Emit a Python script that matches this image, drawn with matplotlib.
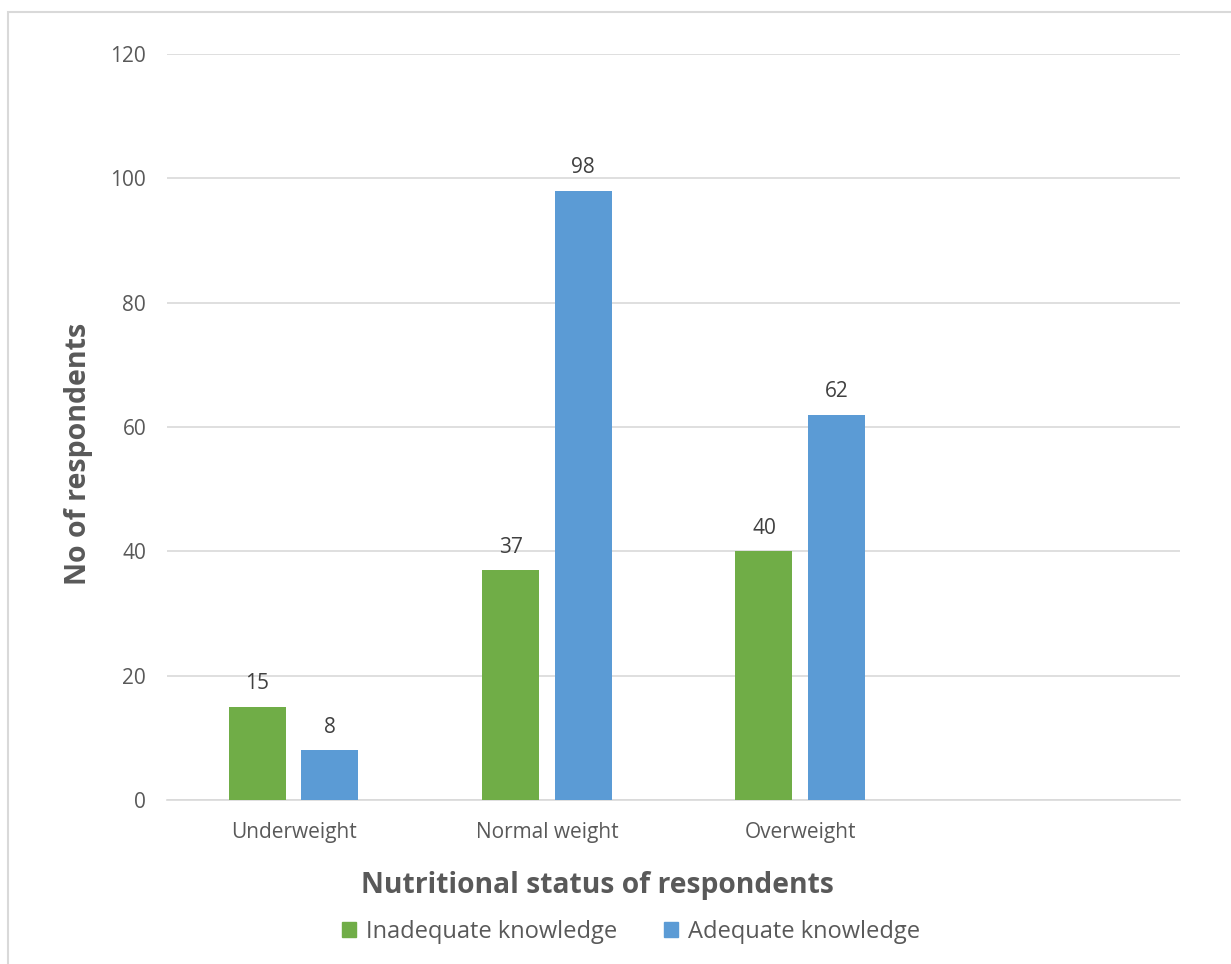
import matplotlib.pyplot as plt
from matplotlib.patches import Rectangle, Patch

categories = ["Underweight", "Normal weight", "Overweight", ""]
inadequate = [15, 37, 40]
adequate = [8, 98, 62]
series_names = ["Inadequate knowledge", "Adequate knowledge"]
yticks = [0, 20, 40, 60, 80, 100, 120]

green = "#70AD47"
blue = "#5B9BD5"
grey = "#595959"

plt.rcParams["font.family"] = ["Open Sans", "DejaVu Sans"]

fig = plt.figure(figsize=(12.31, 9.64), dpi=100)
ax = fig.add_axes([0.1357, 0.1701, 0.8229, 0.7739])

# outer chart border
fig.patches.append(Rectangle((8 / 1231, -0.05), 1.2, 1 - 12 / 964 + 0.05,
                             transform=fig.transFigure, fill=False,
                             edgecolor="#d9d9d9", linewidth=1.5))

w = 0.225
off = 0.143
x = list(range(len(inadequate)))
b1 = ax.bar([i - off for i in x], inadequate, width=w, color=green, zorder=3)
b2 = ax.bar([i + off for i in x], adequate, width=w, color=blue, zorder=3)

for bars in (b1, b2):
    for r in bars:
        ax.text(r.get_x() + r.get_width() / 2, r.get_height() + 2.0,
                f"{r.get_height():g}", ha="center", va="bottom",
                fontsize=15, color="#404040")

ax.set_xlim(-0.5, 3.5)
ax.set_ylim(0, 120)
ax.set_yticks(yticks)
ax.set_xticks(range(len(categories)))
ax.set_xticklabels(categories)
ax.tick_params(length=0, labelsize=15, labelcolor=grey)
ax.tick_params(axis="x", pad=16)
ax.tick_params(axis="y", pad=15)
ax.grid(axis="y", color="#d9d9d9", linewidth=1.2, zorder=0)
for s in ["top", "right", "left"]:
    ax.spines[s].set_visible(False)
ax.spines["bottom"].set_color("#d9d9d9")
ax.spines["bottom"].set_linewidth(1.2)

fig.text(79 / 1231, 1 - 454 / 964, "No of respondents", rotation=90,
         ha="center", va="center", fontsize=20.5, fontweight="bold", color=grey)
fig.text(597 / 1231, 1 - 885 / 964, "Nutritional status of respondents",
         ha="center", va="center", fontsize=20.3, fontweight="bold", color=grey)

handles = [Patch(color=green), Patch(color=blue)]
fig.legend(handles, series_names, loc="center", ncol=2,
           bbox_to_anchor=(631 / 1231, 1 - 932 / 964), frameon=False,
           fontsize=17, labelcolor=grey, handlelength=0.6, handleheight=0.6,
           handletextpad=0.4, columnspacing=2.0)

fig.savefig("out.png", dpi=100)
